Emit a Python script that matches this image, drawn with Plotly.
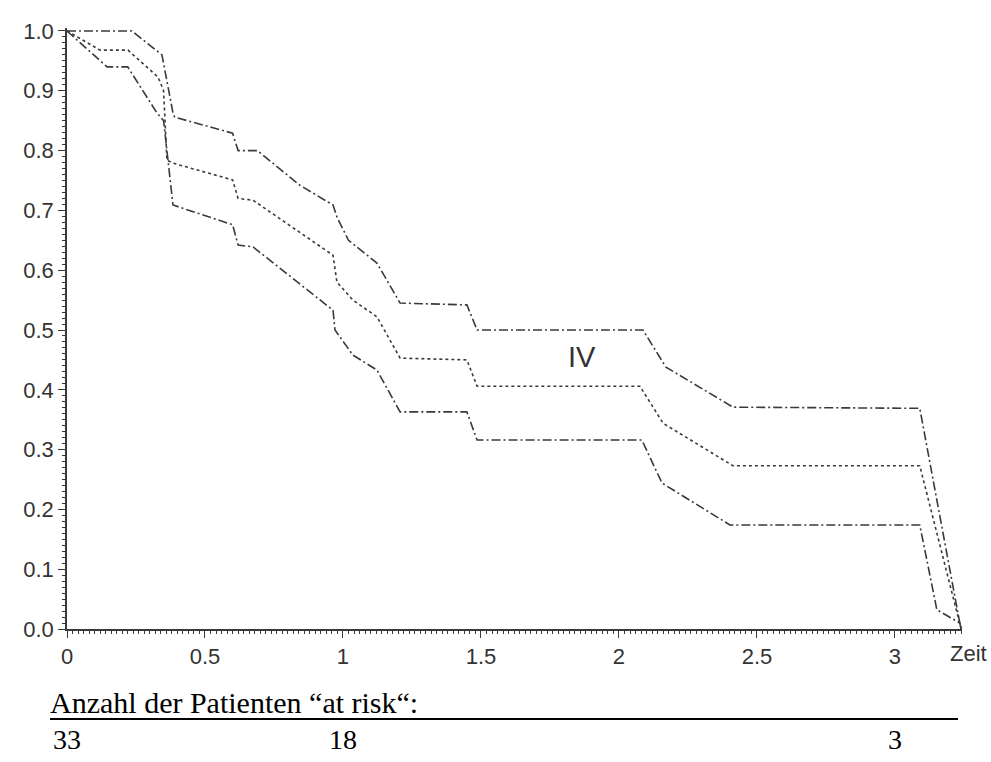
import plotly.graph_objects as go

# ---- data ----
upper_x = [0, 0.235, 0.344, 0.384, 0.39, 0.60, 0.62, 0.69, 0.844, 0.964, 0.978, 1.02, 1.123, 1.207, 1.449, 1.486, 2.087, 2.17, 2.413, 3.09, 3.235, 3.24]
upper_y = [1.0, 1.0, 0.96, 0.863, 0.856, 0.829, 0.80, 0.80, 0.742, 0.709, 0.689, 0.65, 0.612, 0.545, 0.542, 0.50, 0.50, 0.438, 0.371, 0.369, 0.01, 0.0]

mid_x = [0, 0.12, 0.221, 0.33, 0.35, 0.362, 0.384, 0.60, 0.62, 0.674, 0.964, 0.978, 1.036, 1.123, 1.207, 1.449, 1.486, 2.076, 2.16, 2.413, 3.09, 3.228, 3.24]
mid_y = [1.0, 0.968, 0.968, 0.923, 0.90, 0.784, 0.779, 0.751, 0.72, 0.717, 0.625, 0.58, 0.55, 0.522, 0.453, 0.45, 0.406, 0.406, 0.344, 0.273, 0.273, 0.02, 0.0]

low_x = [0, 0.145, 0.22, 0.326, 0.35, 0.384, 0.60, 0.62, 0.674, 0.906, 0.964, 0.971, 1.036, 1.123, 1.207, 1.449, 1.486, 2.083, 2.156, 2.402, 3.09, 3.152, 3.235, 3.24]
low_y = [1.0, 0.94, 0.94, 0.863, 0.85, 0.709, 0.676, 0.642, 0.639, 0.555, 0.533, 0.50, 0.458, 0.433, 0.363, 0.363, 0.316, 0.316, 0.244, 0.174, 0.174, 0.032, 0.01, 0.0]

x_tickvals = [0, 0.5, 1, 1.5, 2, 2.5, 3]
x_ticktext = ["0", "0.5", "1", "1.5", "2", "2.5", "3"]
y_tickvals = [0.0, 0.1, 0.2, 0.3, 0.4, 0.5, 0.6, 0.7, 0.8, 0.9, 1.0]
y_ticktext = ["0.0", "0.1", "0.2", "0.3", "0.4", "0.5", "0.6", "0.7", "0.8", "0.9", "1.0"]

risk_times = [0, 1, 3]
risk_counts = ["33", "18", "3"]

curve_label = "IV"
curve_label_pos = (1.866, 0.455)

# ---- figure ----
LINE = "#3a3a3a"
fig = go.Figure()
fig.add_trace(go.Scatter(x=upper_x, y=upper_y, mode="lines",
                         line=dict(color=LINE, width=1.6, dash="9px,3px,2px,3px")))
fig.add_trace(go.Scatter(x=mid_x, y=mid_y, mode="lines",
                         line=dict(color=LINE, width=1.6, dash="3px,3px")))
fig.add_trace(go.Scatter(x=low_x, y=low_y, mode="lines",
                         line=dict(color=LINE, width=1.6, dash="9px,3px,2px,3px")))

tickfont = dict(family="Liberation Sans, Arial, sans-serif", size=22, color="#333333")
serif = dict(family="Liberation Serif, Times New Roman, serif", size=30, color="black")
serif_num = dict(family="Liberation Serif, Times New Roman, serif", size=28, color="black")

annotations = [
    dict(x=curve_label_pos[0], y=curve_label_pos[1], xref="x", yref="y", text=curve_label,
         showarrow=False, font=dict(family="Liberation Sans, Arial, sans-serif", size=29, color="#333333")),
    dict(x=1, y=0, xref="paper", yref="paper", text="Zeit", showarrow=False,
         xanchor="left", yanchor="middle", xshift=-14, yshift=-24, font=tickfont),
    dict(x=0, y=0, xref="paper", yref="paper", text="Anzahl der Patienten \u201cat risk\u201c:",
         showarrow=False, xanchor="left", yanchor="middle", xshift=-19, yshift=-73, font=serif),
]
for t, c in zip(risk_times, risk_counts):
    annotations.append(dict(x=t, y=0, xref="x", yref="paper", text=c, showarrow=False,
                            xanchor="center", yanchor="middle", yshift=-110, font=serif_num))

fig.update_layout(
    width=991, height=762,
    margin=dict(l=67, r=29, t=28, b=133),
    paper_bgcolor="white", plot_bgcolor="white",
    showlegend=False,
    annotations=annotations,
    shapes=[dict(type="line", xref="paper", yref="paper",
                 x0=-17 / 895, x1=(958 - 67) / 895, y0=-90 / 601, y1=-90 / 601,
                 line=dict(color="black", width=2))],
)
fig.update_xaxes(range=[0, 3.243], showgrid=False, zeroline=False, showline=True,
                 linecolor=LINE, linewidth=1.5, ticks="outside", ticklen=7, tickcolor=LINE,
                 tickwidth=1.2, tickvals=x_tickvals, ticktext=x_ticktext, tickfont=tickfont,
                 minor=dict(dtick=0.02, tick0=0, ticks="outside", ticklen=3, tickcolor=LINE, tickwidth=1))
fig.update_yaxes(range=[0, 1.005], showgrid=False, zeroline=False, showline=True,
                 linecolor=LINE, linewidth=1.5, ticks="outside", ticklen=7, tickcolor=LINE,
                 tickwidth=1.2, tickvals=y_tickvals, ticktext=y_ticktext, tickfont=tickfont,
                 minor=dict(dtick=0.01, tick0=0, ticks="outside", ticklen=3, tickcolor=LINE, tickwidth=1))

fig.write_html("out.html")
